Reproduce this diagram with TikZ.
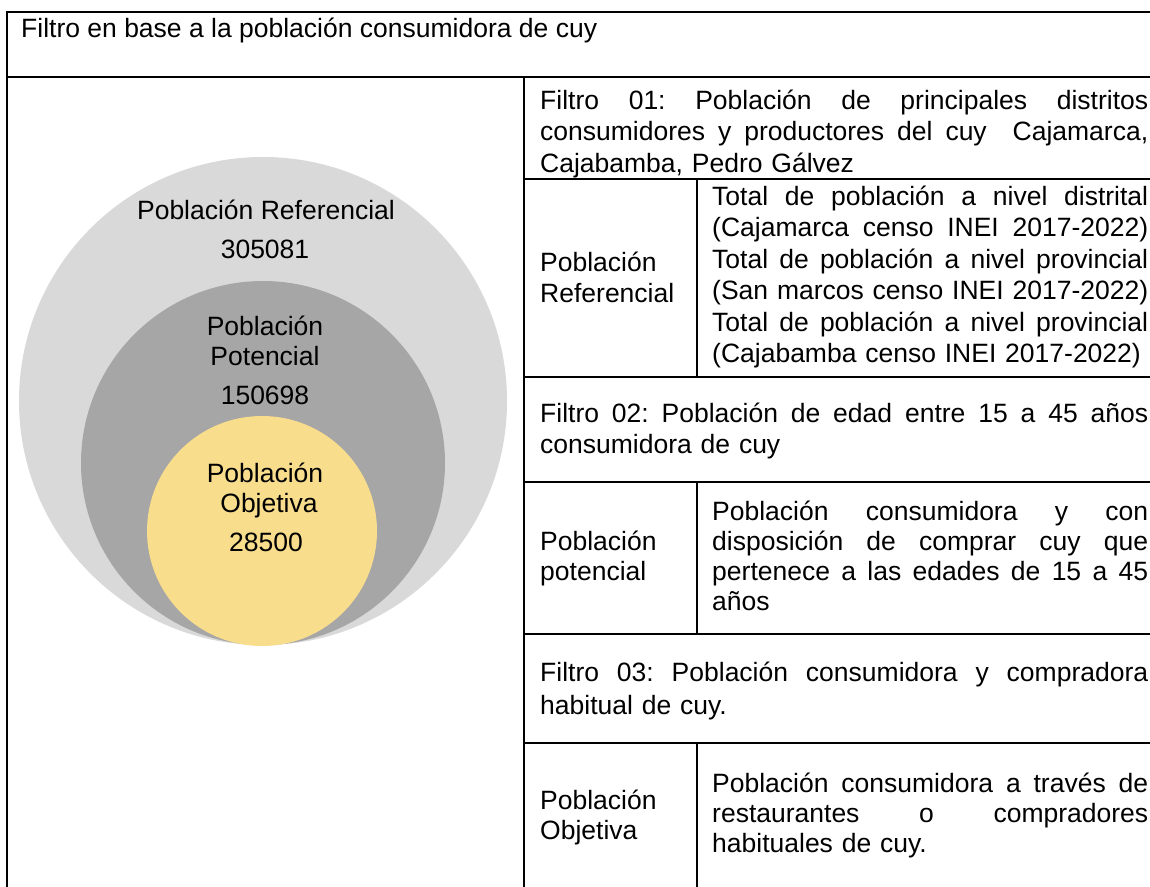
\documentclass[tikz,border=0pt]{standalone}
\usepackage{fontspec}
\setmainfont{Liberation Sans}
\newcommand\jline[2]{\makebox[#1pt][s]{\spaceskip=0.278em plus 1fil\relax\xspaceskip=0.278em plus 1fil\relax #2}}
\definecolor{cref}{HTML}{D9D9D9}
\definecolor{cpot}{HTML}{A6A6A6}
\definecolor{cobj}{HTML}{F8DD8C}
\begin{document}
\begin{tikzpicture}[x=1pt,y=-1pt,
  tline/.style={draw=black,line width=2.4pt},
  txt/.style={anchor=base west,inner sep=0pt,font=\fontsize{26.5}{31.5}\selectfont,align=left},
  txtb/.style={txt,font=\fontsize{26.5}{30}\selectfont},
  clbl/.style={anchor=base,inner sep=0pt,font=\fontsize{26.5}{31.5}\selectfont,align=center},
  disc/.style={circle,inner sep=0pt,draw=none}]
\useasboundingbox (0,0) rectangle (1150,886);
\clip (0,0) rectangle (1150,886);
\fill[white] (0,0) rectangle (1150,886);
% circles
\node[disc,fill=cref,minimum size=488pt] (outer) at (263,401) {};
\node[disc,fill=cpot,minimum size=364pt] (middle) at (263,463) {};
\node[disc,fill=cobj,minimum size=230pt] (inner) at (262,531) {};
\node[clbl] (lref) at (266,219) {Población Referencial};
\node[clbl] (nref) at (265,258) {305081};
\node[clbl] (lpot1) at (265,335) {Población};
\node[clbl] (lpot2) at (265,365) {Potencial};
\node[clbl] (npot) at (265,404) {150698};
\node[clbl] (lobj1) at (265,482) {Población};
\node[clbl] (lobj2) at (269,512) {Objetiva};
\node[clbl] (nobj) at (266,551) {28500};
% table lines
\draw[tline] (1160,12) -- (7,12) -- (7,900);
\draw[tline] (7,77) -- (1160,77);
\draw[tline] (524,77) -- (524,900);
\foreach \yy in {179,377,482,634,743} {\draw[tline] (524,\yy) -- (1160,\yy);}
\draw[tline] (697,179) -- (697,377);
\draw[tline] (697,482) -- (697,634);
\draw[tline] (697,743) -- (697,900);
% texts
\node[txt] (head) at (21,37) {Filtro en base a la población consumidora de cuy};
\node[txt,text width=608pt] (f1) at (540,109) {\jline{608}{Filtro 01: Población de principales distritos}\\
\jline{608}{consumidores y productores del cuy\ \ Cajamarca,}\\
Cajabamba, Pedro Gálvez};
\node[txt,text width=150pt] (refl) at (540,271) {Población\\Referencial};
\node[txt,text width=436pt] (refr) at (712,205) {\jline{436}{Total de población a nivel distrital}\\
\jline{436}{(Cajamarca censo INEI 2017-2022)}\\
\jline{436}{Total de población a nivel provincial}\\
\jline{436}{(San marcos censo INEI 2017-2022)}\\
\jline{436}{Total de población a nivel provincial}\\
(Cajabamba censo INEI 2017-2022)};
\node[txt,text width=608pt] (f2) at (540,422) {\jline{608}{Filtro 02: Población de edad entre 15 a 45 años}\\
consumidora de cuy};
\node[txtb,text width=150pt] (potl) at (540,550) {Población\\potencial};
\node[txtb,text width=436pt] (potr) at (712,520) {\jline{436}{Población consumidora y con}\\
\jline{436}{disposición de comprar cuy que}\\
\jline{436}{pertenece a las edades de 15 a 45}\\
años};
\node[txt,text width=608pt,font=\fontsize{26.5}{33}\selectfont] (f3) at (540,681) {\jline{608}{Filtro 03: Población consumidora y compradora}\\
habitual de cuy.};
\node[txtb,text width=150pt] (objl) at (540,809) {Población\\Objetiva};
\node[txtb,text width=436pt] (objr) at (712,792) {\jline{436}{Población consumidora a través de}\\
\jline{436}{restaurantes o compradores}\\
habituales de cuy.};
\end{tikzpicture}
\end{document}
